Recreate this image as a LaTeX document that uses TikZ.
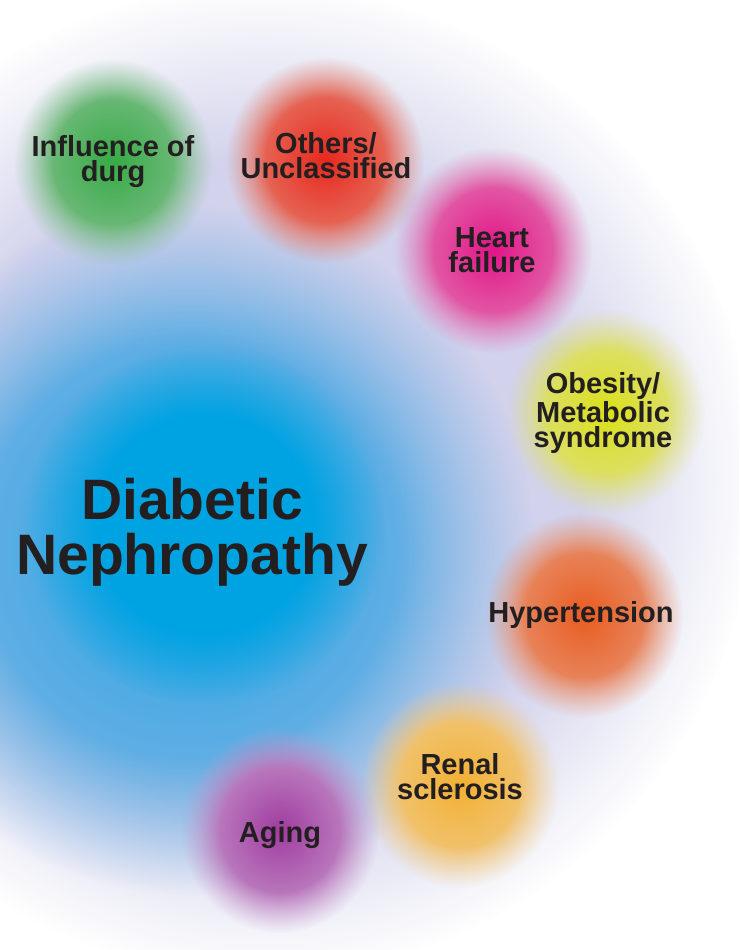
\documentclass[tikz,border=0pt]{standalone}
\usepackage{fontspec}
\setmainfont{Liberation Sans}
\usetikzlibrary{
  fadings
}
\definecolor{dnText}{RGB}{35,31,32}
\definecolor{dnHalo}{RGB}{210,210,236}
\definecolor{dnBlueIn}{RGB}{40,165,228}
\definecolor{dnBlueOut}{RGB}{130,180,228}
\definecolor{dnCyan}{RGB}{0,163,226}
\definecolor{dnDrug}{RGB}{55,170,70}
\definecolor{dnDrugLt}{RGB}{135,192,145}
\definecolor{dnOther}{RGB}{232,40,30}
\definecolor{dnOtherLt}{RGB}{228,135,115}
\definecolor{dnHeart}{RGB}{226,20,135}
\definecolor{dnHeartLt}{RGB}{226,128,182}
\definecolor{dnObese}{RGB}{218,224,25}
\definecolor{dnObeseLt}{RGB}{222,222,145}
\definecolor{dnHyper}{RGB}{232,92,32}
\definecolor{dnHyperLt}{RGB}{232,155,125}
\definecolor{dnRenal}{RGB}{242,176,50}
\definecolor{dnRenalLt}{RGB}{240,204,142}
\definecolor{dnAging}{RGB}{160,60,160}
\definecolor{dnAgingLt}{RGB}{200,155,205}
% soft edged discs
\pgfdeclareradialshading{dnsoftshade}{\pgfpointorigin}{%
  color(0bp)=(pgftransparent!0); color(15bp)=(pgftransparent!0);
  color(25bp)=(pgftransparent!100); color(50bp)=(pgftransparent!100)}
\pgfdeclarefading{dnsoft}{\pgfuseshading{dnsoftshade}}
\pgfdeclareradialshading{dnhazeshade}{\pgfpointorigin}{%
  color(0bp)=(pgftransparent!0); color(16bp)=(pgftransparent!0);
  color(25bp)=(pgftransparent!100); color(50bp)=(pgftransparent!100)}
\pgfdeclarefading{dnhaze}{\pgfuseshading{dnhazeshade}}
\tikzset{
  blob/.style={
    shading=radial,
    path fading=dnsoft
  },
  haze/.style={
    shading=radial,
    path fading=dnhaze
  },
  dnlabel/.style={
    font=\fontsize{29}{25}\selectfont\bfseries,
    text=dnText,
    align=center,
    inner sep=0pt
  },
  dntitle/.style={
    font=\fontsize{57}{55}\selectfont\bfseries,
    text=dnText,
    align=center,
    inner sep=0pt
  }
}

\begin{document}
\begin{tikzpicture}[x=1pt, y=-1pt]
  \useasboundingbox (0,0) rectangle (739,950);
  \clip (0,0) rectangle (739,950);
  \fill[white] (0,0) rectangle (739,950);

  \shade[haze, inner color=dnHalo, outer color=dnHalo] (262,480) circle (495pt);
  \shade[blob, inner color=dnBlueIn, outer color=dnBlueOut] (190,550) circle (345pt);
  \shade[blob, inner color=dnCyan, outer color=dnCyan] (205,524) circle (180pt);

  \foreach \cx/\cy/\cin/\cout in {113/162/dnDrug/dnDrugLt, 325/160/dnOther/dnOtherLt,
      493/250/dnHeart/dnHeartLt, 606/412/dnObese/dnObeseLt, 584/615/dnHyper/dnHyperLt,
      460/785/dnRenal/dnRenalLt, 280/830/dnAging/dnAgingLt} {
    \shade[blob, inner color=\cin, outer color=\cout] (\cx,\cy) ellipse (99pt and 103pt);
  }

  \node[dntitle] (dn) at (192,532) {Diabetic\\Nephropathy};
  \node[dnlabel] (drug) at (113,162) {Influence of\\durg};
  \node[dnlabel] (others) at (326,156) {Others/\\Unclassified};
  \node[dnlabel] (heart) at (492,250) {Heart\\failure};
  \node[dnlabel] (obesity) at (603,413) {Obesity/\\Metabolic\\syndrome};
  \node[dnlabel] (hyper) at (581,615) {Hypertension};
  \node[dnlabel] (renal) at (460,777) {Renal\\sclerosis};
  \node[dnlabel] (aging) at (280,835) {Aging};
\end{tikzpicture}
\end{document}
